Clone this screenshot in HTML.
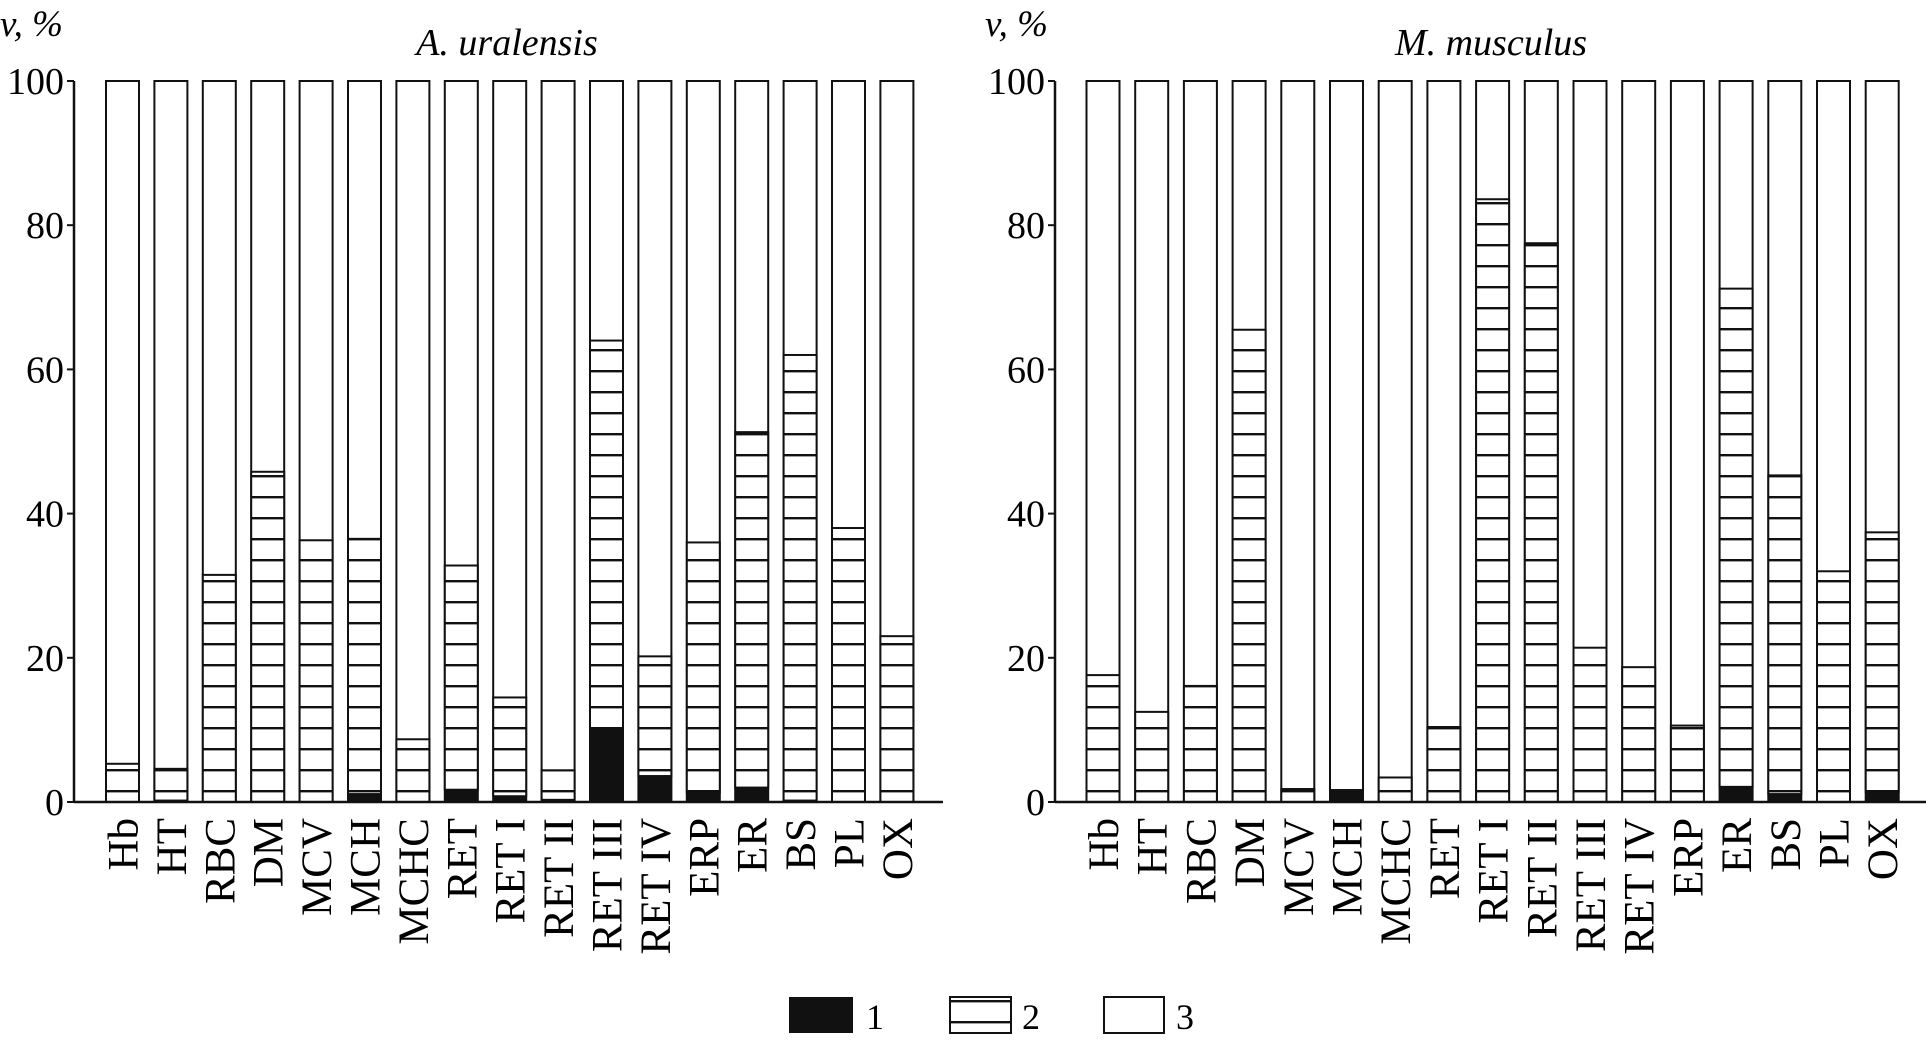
<!DOCTYPE html>
<html><head><meta charset="utf-8"><style>
html,body{margin:0;padding:0;background:#fff}
svg{display:block;font-family:"Liberation Serif",serif}
</style></head><body>
<svg id="chart" width="1926" height="1040" viewBox="0 0 1926 1040">
<defs>
<pattern id="stripe" patternUnits="userSpaceOnUse" width="10" height="21" y="802">
<rect width="10" height="21" fill="#fff"/>
<rect y="9" width="10" height="2.4" fill="#111"/>
</pattern>
</defs>
<g id="left"></g>
<g id="right"></g>
<g>
<rect x="789" y="997" width="64" height="36" fill="#111"/>
<text x="866" y="1029" font-size="36">1</text>
<rect x="950" y="997" width="61" height="36" fill="url(#stripe)" stroke="#111" stroke-width="2"/>
<text x="1022" y="1029" font-size="36">2</text>
<rect x="1104" y="997" width="60" height="36" fill="#fff" stroke="#111" stroke-width="2"/>
<text x="1176" y="1029" font-size="36">3</text>
</g>
</svg>
<script>
const categories = ["Hb","HT","RBC","DM","MCV","MCH","MCHC","RET","RET I","RET II","RET III","RET IV","ERP","ER","BS","PL","OX"];
const yTicks = [0,20,40,60,80,100];
const uralS1 = [0,0.2,0,0,0,1.1,0,1.7,0.8,0.3,10.2,3.6,1.3,2,0.2,0,0];
const uralS12 = [5.3,4.6,31.5,45.8,36.3,36.5,8.7,32.8,14.5,4.4,64,20.2,36,51.3,62,38,23];
const muscS1 = [0,0,0,0,0,1.8,0,0,0,0,0,0,0,2.1,1.1,0,1.4];
const muscS12 = [17.6,12.5,16.1,65.5,1.8,1.8,3.4,10.4,83.6,77.5,21.4,18.7,10.6,71.2,45.3,32,37.4];

const NS="http://www.w3.org/2000/svg";
const Y0=802, Y100=81;
function yScale(v){return Y0-(Y0-Y100)*v/100;}
function mk(parent,tag,attrs){const e=document.createElementNS(NS,tag);for(const k in attrs)e.setAttribute(k,attrs[k]);parent.appendChild(e);return e;}

function drawPanel(g,cfg,s1,s12){
  const xS=i=>cfg.firstCenter+i*cfg.stride;
  const bw=33;
  categories.forEach((c,i)=>{
    const cx=xS(i), x=cx-bw/2;
    const top3=mk(g,'rect',{x:x,y:yScale(100),width:bw,height:yScale(0)-yScale(100),fill:'#fff',stroke:'#111','stroke-width':2});
    
    
    if(s12[i]>s1[i]){
      const r=mk(g,'rect',{x:x,y:yScale(s12[i]),width:bw,height:yScale(s1[i])-yScale(s12[i]),fill:'url(#stripe)',stroke:'#111','stroke-width':2});
      
      
    }
    if(s1[i]>0){
      const r=mk(g,'rect',{x:x,y:yScale(s1[i]),width:bw,height:yScale(0)-yScale(s1[i]),fill:'#111'});
      
      
    }
    const t=mk(g,'text',{x:0,y:0,'font-size':43,'text-anchor':'end',transform:`translate(${cx+15},818) rotate(-90)`});
    t.textContent=c;
    
    
  });
  const ax=mk(g,'line',{x1:cfg.axisX,y1:Y100,x2:cfg.axisX,y2:Y0,stroke:'#111','stroke-width':2.5});
  
  
  const bx=mk(g,'line',{x1:cfg.axisX,y1:Y0,x2:cfg.axisEnd,y2:Y0,stroke:'#111','stroke-width':2.5});
  
  
  yTicks.forEach(v=>{
    mk(g,'line',{x1:cfg.axisX-7,y1:yScale(v),x2:cfg.axisX,y2:yScale(v),stroke:'#111','stroke-width':2});
    const t=mk(g,'text',{x:cfg.axisX-10,y:yScale(v)+13,'font-size':38,'text-anchor':'end'});
    t.textContent=v;
    
    
  });
  const tt=mk(g,'text',{x:cfg.titleX,y:55,'font-size':38,'font-style':'italic','text-anchor':'middle'});
  tt.textContent=cfg.title;
  
  
  const yt=mk(g,'text',{x:cfg.vX,y:36,'font-size':37,'font-style':'italic'});
  yt.textContent='v, %';
  
  
}
drawPanel(document.getElementById('left'),{key:'ural',firstCenter:122.5,stride:48.4,axisX:74,axisEnd:943,titleX:507,vX:0,title:'A. uralensis'},uralS1,uralS12);
drawPanel(document.getElementById('right'),{key:'musc',firstCenter:1103,stride:48.7,axisX:1055,axisEnd:1926,titleX:1491,vX:985,title:'M. musculus'},muscS1,muscS12);
</script>
</body></html>
